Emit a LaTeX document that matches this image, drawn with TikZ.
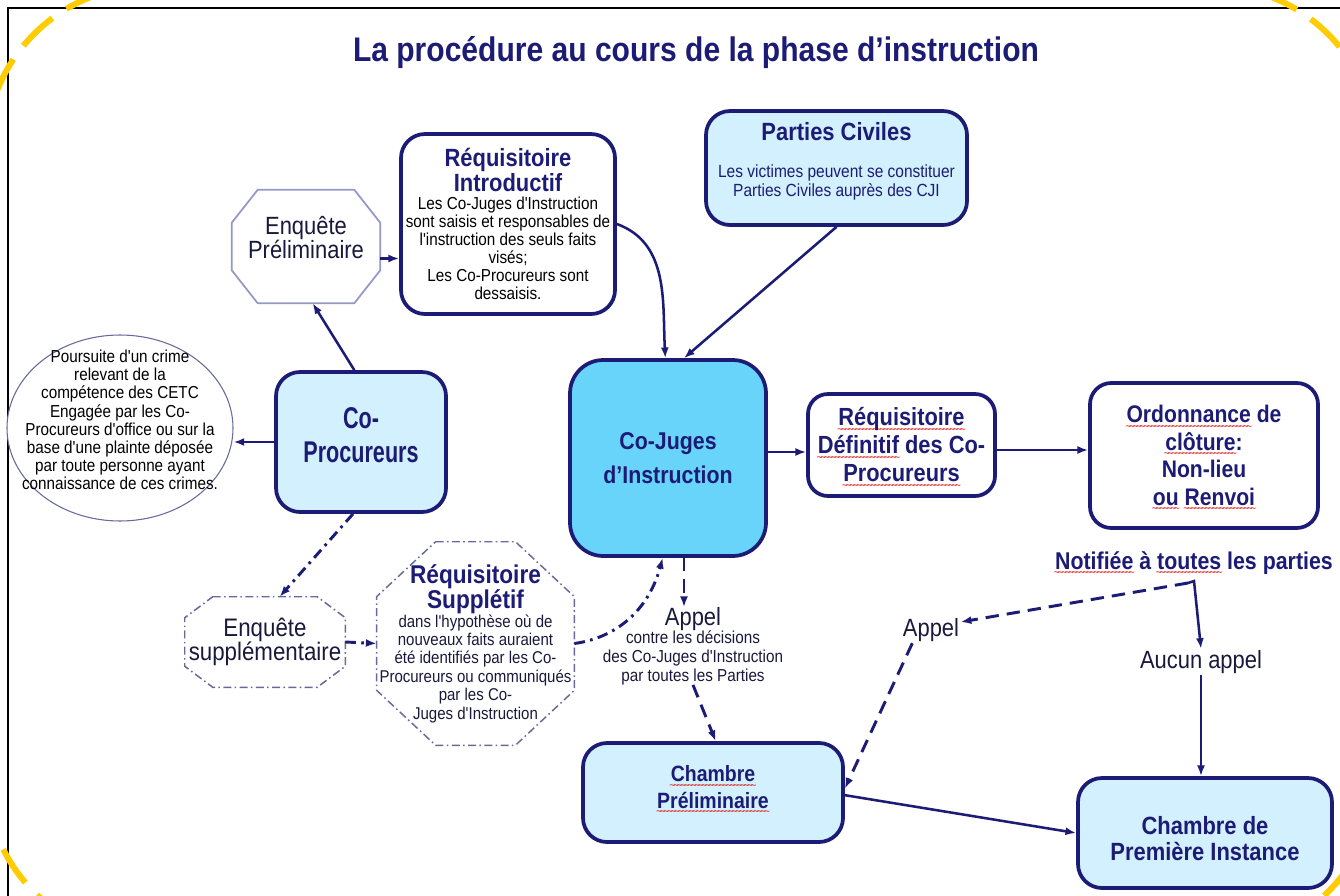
\documentclass[tikz,border=0pt]{standalone}
\usepackage{fontspec}
\setmainfont{Liberation Sans}[FakeStretch=0.88, Ligatures=TeXOff]
\newfontfamily\cpf{Liberation Sans}[FakeStretch=0.72]
\usetikzlibrary{arrows.meta,calc,shapes.geometric}
\definecolor{navy}{RGB}{28,28,118}
\definecolor{lblue}{RGB}{210,240,253}
\definecolor{cjblue}{RGB}{104,212,250}
\definecolor{octgray}{RGB}{150,150,200}
\definecolor{ddgray}{RGB}{105,105,155}
\definecolor{txt}{RGB}{25,25,60}
\definecolor{yel}{RGB}{255,204,0}
\definecolor{sqred}{RGB}{225,40,40}
\newcommand\sq[1]{\leavevmode\setbox0=\hbox{#1}\rlap{\raisebox{-5.6pt}[0pt][0pt]{\color{sqred}\fontsize{9}{9}\selectfont\mdseries\hbox to\wd0{\xleaders\hbox{\kern-1pt\char"7E\kern-1pt}\hfill}}}\box0\relax}
\newcommand\botpad[1]{\par\nointerlineskip\hbox{\vrule width0pt height#1}}
\newcommand\drawoct[4]{%
 \draw[#1] ($(#2.north west)+(#3,0)$) -- ($(#2.north east)+(-#3,0)$) -- ($(#2.north east)+(0,#4)$) -- ($(#2.south east)+(0,-#4)$) -- ($(#2.south east)+(-#3,0)$) -- ($(#2.south west)+(#3,0)$) -- ($(#2.south west)+(0,-#4)$) -- ($(#2.north west)+(0,#4)$) -- cycle;}
\newcommand\hdfont{\fontsize{18.7}{18.75}\selectfont\bfseries\color{navy}}
\tikzset{
 box/.style={draw=navy, line width=2.8pt, rounded corners=18pt, align=flush center, inner sep=0pt},
 lbox/.style={box, fill=lblue},
 wbox/.style={box, fill=white},
 arr/.style={draw=navy, line width=1.9pt, -{Latex[length=8pt,width=6pt]}},
 dsh/.style={arr, line width=2.2pt, dash pattern=on 10pt off 6pt},
 dd/.style={arr, line width=2.2pt, dash pattern=on 8pt off 4pt on 2pt off 4pt},
 lbl/.style={align=center, inner sep=1pt, text=txt},
 ghost/.style={inner sep=0pt, align=flush center},
 octd/.style={draw=ddgray, line width=1.1pt, dash pattern=on 6pt off 2.5pt on 1.2pt off 2.5pt},
 yelline/.style={draw=yel, line width=4.5pt, dash pattern=on 30pt off 12.75pt},
}
\begin{document}
\begin{tikzpicture}[x=0.75pt,y=-0.75pt]
\useasboundingbox (0,0) rectangle (1340,896);
\clip (0,0) rectangle (1340,896);
\fill[white] (0,0) rectangle (1340,896);
% frame and yellow corners
\draw[black, line width=2.2pt] (8,910) -- (8,8) -- (1360,8);
\draw[yelline, dash phase=0.75pt] (-14,150) arc[start angle=180, end angle=270, radius=164];
\draw[yelline, dash phase=6pt] (1212,-14) arc[start angle=270, end angle=360, radius=164];
\draw[yelline, dash phase=15pt] (1376,776) arc[start angle=0, end angle=90, radius=164];
\draw[yelline, dash phase=22pt] (150,940) arc[start angle=90, end angle=180, radius=164];

% title
\node[font=\bfseries\fontsize{25.6}{28}\selectfont, text=navy] (title) at (696,53) {La procédure au cours de la phase d’instruction};

% Enquete preliminaire
\node[ghost, minimum width=111pt, minimum height=84.75pt, text width=110pt, text=txt, font=\fontsize{18.7}{18}\selectfont] (ep) at (306,246.5) {Enquête\\Préliminaire\botpad{13pt}};
\drawoct{draw=octgray, line width=1.3pt}{ep}{26}{33}

% Requisitoire introductif
\node[wbox, minimum width=160.5pt, minimum height=135pt, text width=158pt] (ri) at (508,224)
 {{\hdfont Réquisitoire\\Introductif\par}{\fontsize{13}{13.5}\selectfont\color{black} Les Co-Juges d'Instruction\\sont saisis et responsables de\\l'instruction des seuls faits\\visés;\\Les Co-Procureurs sont\\dessaisis.\par}};

% Parties civiles
\node[lbox, minimum width=195.75pt, minimum height=85.5pt, text width=192pt] (pc) at (836.5,168)
 {{\hdfont Parties Civiles\par}\vspace{13pt}{\fontsize{13.2}{14.25}\selectfont\color{navy} Les victimes peuvent se constituer\\Parties Civiles auprès des CJI\par}\botpad{10pt}};

% ellipse
\node[ellipse, draw=ddgray, line width=0.8pt, fill=white, minimum width=169.5pt, minimum height=139.5pt, inner sep=0pt] (ellb) at (120,428) {};
\node[ghost, text width=172pt, font=\fontsize{13}{13.6}\selectfont, text=black] (ell) at (120,420)
 {Poursuite d'un crime\\relevant de la\\compétence des CETC\\Engagée par les Co-\\Procureurs d'office ou sur la\\base d'une plainte déposée\\par toute personne ayant\\connaissance de ces crimes.};

% Co-Procureurs
\node[lbox, minimum width=127.5pt, minimum height=105pt, text width=122pt, font=\cpf\bfseries\fontsize{22.5}{25.5}\selectfont, text=navy] (cop) at (361,442) {Co-\\Procureurs\botpad{10pt}};

% Co-Juges
\node[box, fill=cjblue, rounded corners=25pt, minimum width=147pt, minimum height=147pt, text width=140pt, font=\bfseries\fontsize{18.2}{25.5}\selectfont, text=navy] (cj) at (668,458) {Co-Juges\\d’Instruction};

% Requisitoire definitif
\node[wbox, rounded corners=15pt, minimum width=140.25pt, minimum height=76.5pt, text width=138pt, font=\bfseries\fontsize{18.6}{21}\selectfont, text=navy] (rd) at (901.5,445) {\sq{Réquisitoire}\\\sq{Définitif} des Co-\\\sq{Procureurs}};

% Ordonnance
\node[wbox, rounded corners=16pt, minimum width=171pt, minimum height=108.75pt, text width=166pt, font=\bfseries\fontsize{18}{20.6}\selectfont, text=navy] (ord) at (1204,455.5) {\sq{Ordonnance} de\\\sq{clôture}:\\Non-lieu\\\sq{ou} \sq{Renvoi}};

\node[lbl, text=navy, font=\bfseries\fontsize{18.2}{20}\selectfont] (notif) at (1194,563) {\sq{Notifiée} à \sq{toutes} les parties};

% Enquete supplementaire
\node[ghost, minimum width=120pt, minimum height=67.5pt, text=txt, font=\fontsize{19}{18}\selectfont] (es) at (265,642) {Enquête\\supplémentaire};
\drawoct{octd}{es}{28}{21}

% Requisitoire suppletif
\node[ghost, minimum width=147pt, minimum height=152.25pt, text width=148pt] (rs) at (475.5,643.5)
 {{\fontsize{19.3}{18}\selectfont\bfseries\color{navy} Réquisitoire\\Supplétif\par}{\fontsize{12.8}{13.8}\selectfont\color{txt} dans l'hypothèse où de\\nouveaux faits auraient\\été identifiés par les Co-\\Procureurs ou communiqués\\par les Co-\\Juges d'Instruction\par}};
\drawoct{octd}{rs}{59}{55}

% Appel 1
\node[ghost, text width=150pt, text=txt] (app1) at (693,646)
 {{\fontsize{18.7}{18}\selectfont Appel\par}{\fontsize{13}{13.9}\selectfont contre les décisions\\des Co-Juges d'Instruction\\par toutes les Parties\par}};

\node[lbl, font=\fontsize{18.7}{18}\selectfont] (app2) at (931,630) {Appel};
\node[lbl, font=\fontsize{18.7}{18}\selectfont] (aucun) at (1201,662) {Aucun appel};

% Chambres
\node[lbox, minimum width=195pt, minimum height=74.25pt, text width=190pt, font=\bfseries\fontsize{16.6}{20}\selectfont, text=navy] (chp) at (713,792.5) {\sq{Chambre}\\\sq{Préliminaire}\botpad{8pt}};
\node[lbox, minimum width=190.5pt, minimum height=82.5pt, text width=186pt, font=\bfseries\fontsize{18.7}{19.5}\selectfont, text=navy] (cpi) at (1205,833) {\rule{0pt}{22pt}Chambre de\\Première Instance};

% connectors
\path ([yshift=-9pt]ep.east) coordinate (epa);
\draw[arr] (epa) -- (epa -| ri.west);
\draw[arr] (ri.east) to[out=-20,in=93] ([xshift=-2pt]cj.north);
\draw[arr] (pc.south) -- ([xshift=12pt]cj.north);
\draw[arr] ([xshift=-5pt]cop.north) -- ([xshift=5pt]ep.south);
\draw[arr] (cop.west) -- (cop.west -| ellb.east);
\draw[dd] ([xshift=-6pt]cop.south) -- ([xshift=11pt]es.north);
\draw[dd] (es.east) -- (rs.west);
\draw[dd] (rs.east) to[out=8,in=-105] ([xshift=-4pt]cj.south);
\path ([xshift=12pt]cj.south) coordinate (cja);
\draw[dsh] (cja) -- (cja |- app1.north);
\draw[dsh] (app1.south) -- ([xshift=2pt]chp.north);
\draw[arr] (cj.east |- 0,452) -- (rd.west |- 0,452);
\draw[arr] (rd.east |- 0,450) -- (ord.west |- 0,450);
\coordinate (sp) at (1188,583);
\coordinate (sp2) at (1194,581);
\draw[dsh] (sp) -- ([yshift=6pt]app2.east);
\draw[arr] (sp) -- (sp2) -- (aucun.north);
\draw[arr] (aucun.south) -- (aucun.south |- cpi.north);
\draw[dsh] ([xshift=-14pt]app2.south) -- ([yshift=3pt]chp.east);
\draw[arr] ([yshift=-2pt]chp.east) -- (cpi.west);
\end{tikzpicture}
\end{document}
